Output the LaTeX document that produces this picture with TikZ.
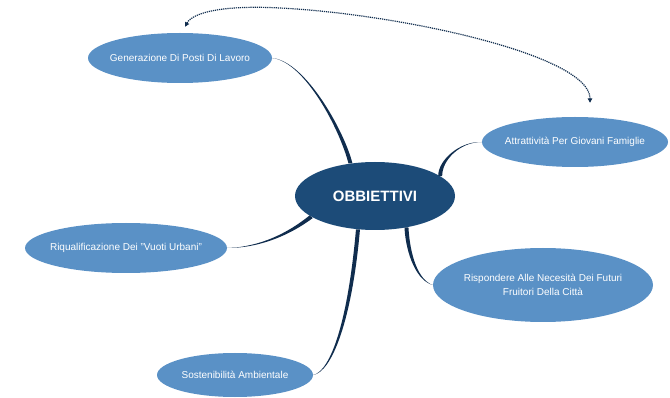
\documentclass[tikz,border=0pt]{standalone}
\usepackage{fontspec}
\setmainfont{Liberation Sans}
\usetikzlibrary{shapes.geometric,arrows.meta,backgrounds}
\definecolor{lblue}{HTML}{5A91C6}
\definecolor{dblue}{HTML}{1C4B78}
\definecolor{navy}{HTML}{102D4E}
\begin{document}
\begin{tikzpicture}[x=1pt,y=-1pt,
  leaf/.style={ellipse, fill=lblue, text=white, inner xsep=-30pt, inner ysep=0pt,
    font=\fontsize{10}{14}\selectfont, align=center},
  hub/.style={ellipse, fill=dblue, text=white, font=\fontsize{15}{18}\selectfont\bfseries,
    minimum width=160pt, minimum height=68pt, inner sep=0pt},
  conn/.style={fill=navy},
  link/.style={navy, line width=1.2pt, dash pattern=on 1.2pt off 0.9pt,
    {Triangle[length=4.5pt,width=4.5pt]}-{Triangle[length=4.5pt,width=4.5pt]}}]
\useasboundingbox (0,0) rectangle (670,398);

\node[hub] (c) at (375,196) {OBBIETTIVI};
\node[leaf, minimum width=184pt, minimum height=50pt] (g) at (180,58) {Generazione Di Posti Di Lavoro};
\node[leaf, minimum width=186pt, minimum height=50pt] (a) at (575,142) {Attrattività Per Giovani Famiglie};
\node[leaf, minimum width=202pt, minimum height=50pt] (r) at (126,248) {Riqualificazione Dei "Vuoti Urbani"};
\node[leaf, minimum width=220pt, minimum height=74pt] (p) at (543,285) {Rispondere Alle Necesità Dei Futuri\\Fruitori Della Città};
\node[leaf, minimum width=156pt, minimum height=44pt] (s) at (235,375) {Sostenibilità Ambientale};

\begin{pgfonlayer}{background}
\fill[conn] (g.east) .. controls (305,62) and (340,130) .. ([xshift=-2pt]c.127)
  -- ([xshift=2pt]c.127) .. controls (344,130) and (305,61) .. (g.east);
\fill[conn] (a.west) .. controls (460,142) and (442,160) .. ([xshift=2pt]c.17)
  -- ([xshift=-2pt]c.17) .. controls (438,160) and (460,141) .. (a.west);
\fill[conn] (r.east) .. controls (260,248) and (290,235) .. ([shift={(1.5pt,-1.4pt)}]c.198)
  -- ([shift={(-1.5pt,1.4pt)}]c.198) .. controls (288,233) and (260,247) .. (r.east);
\fill[conn] (p.west) .. controls (418,280) and (410,255) .. ([xshift=2pt]c.-45)
  -- ([xshift=-2pt]c.-45) .. controls (406,255) and (417,281) .. (p.west);
\fill[conn] (s.east) .. controls (332,372) and (352,320) .. ([xshift=2pt]c.243)
  -- ([xshift=-2pt]c.243) .. controls (348,320) and (331,371) .. (s.east);
\end{pgfonlayer}

\coordinate (top) at (280,8);
\draw[link] ([xshift=5pt,yshift=6pt]g.north) .. controls (193,12) and (225,5) .. (top)
  .. controls (400,14) and (590,55) .. ([xshift=15pt,yshift=14pt]a.north);
\end{tikzpicture}
\end{document}
